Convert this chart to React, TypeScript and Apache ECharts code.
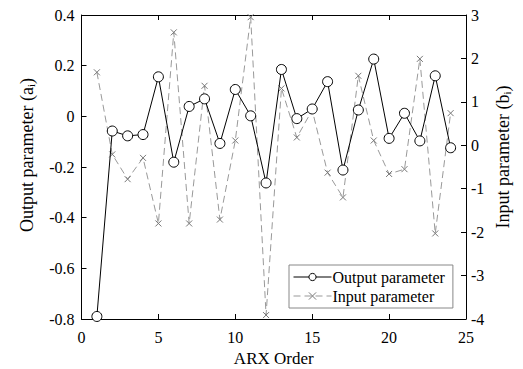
import React, { useEffect, useRef } from "react";
import * as echarts from "echarts";

const orders = [1,2,3,4,5,6,7,8,9,10,11,12,13,14,15,16,17,18,19,20,21,22,23,24];
const outputParam = [-0.79,-0.058,-0.077,-0.072,0.156,-0.181,0.039,0.069,-0.107,0.106,0.002,-0.263,0.185,-0.009,0.029,0.137,-0.212,0.025,0.226,-0.087,0.012,-0.097,0.16,-0.124];
const inputParam = [1.68,-0.21,-0.78,-0.29,-1.8,2.6,-1.8,1.37,-1.71,0.11,2.95,-3.91,1.31,0.18,0.81,-0.63,-1.2,1.6,0.11,-0.66,-0.55,1.99,-2.03,0.74];
const leftTicks = { min: -0.8, max: 0.4, interval: 0.2 };
const rightTicks = { min: -4, max: 3, interval: 1 };
const xTicks = { min: 0, max: 25, interval: 5 };

const FONT = "'Liberation Serif', 'Times New Roman', serif";

export default function App() {
  const ref = useRef<HTMLDivElement>(null);
  useEffect(() => {
    const chart = echarts.init(ref.current!, null, { renderer: "svg" });
    const axisLine = { show: true, onZero: false, lineStyle: { color: "#000", width: 1 } };
    const axisTick = { show: true, inside: true, length: 5, lineStyle: { color: "#000" } };
    const labelStyle = { color: "#000", fontFamily: FONT, fontSize: 16 };
    chart.setOption({
      animation: false,
      backgroundColor: "#fff",
      grid: { left: 81.5, right: 57, top: 15, bottom: 50, outerBoundsMode: "none", containLabel: false },
      xAxis: [
        {
          type: "value", ...xTicks, position: "bottom",
          axisLine, axisTick, splitLine: { show: false },
          axisLabel: { ...labelStyle, margin: 10 },
          name: "ARX Order", nameLocation: "middle", nameGap: 30,
          nameTextStyle: { color: "#000", fontFamily: FONT, fontSize: 17, lineHeight: 17 },
        },
        {
          type: "value", ...xTicks, position: "top",
          axisLine, axisTick, splitLine: { show: false },
          axisLabel: { show: false },
        },
      ],
      yAxis: [
        {
          type: "value", ...leftTicks, position: "left",
          axisLine, axisTick, splitLine: { show: false },
          axisLabel: { ...labelStyle, margin: 7, formatter: (v: number) => String(Math.round(v * 10) / 10) },
        },
        {
          type: "value", ...rightTicks, position: "right",
          axisLine, axisTick, splitLine: { show: false },
          axisLabel: { ...labelStyle, margin: 5 },
        },
      ],
      legend: {
        left: 289, top: 265, orient: "vertical",
        backgroundColor: "#fff", borderColor: "#888", borderWidth: 1,
        padding: [4, 8, 4, 4], itemGap: 3, itemWidth: 38, itemHeight: 9,
        lineStyle: { width: 1 },
        itemStyle: { borderWidth: 1 },
        textStyle: { color: "#000", fontFamily: FONT, fontSize: 16, padding: [0, 0, 0, -4] },
        data: ["Output parameter", "Input parameter"],
      },
      graphic: [
        {
          type: "text", x: 27, y: 155, rotation: Math.PI / 2,
          style: {
            text: "{n|Output parameter (a}{s|i}{n|)}",
            align: "center", verticalAlign: "middle",
            rich: {
              n: { fontFamily: FONT, fontSize: 18, fill: "#000" },
              s: { fontFamily: FONT, fontSize: 11, fill: "#000", padding: [8, 0, 0, 0] },
            },
          },
        },
        {
          type: "text", x: 503, y: 157, rotation: Math.PI / 2,
          style: {
            text: "{n|Input parameter (b}{s|i}{n|)}",
            align: "center", verticalAlign: "middle",
            rich: {
              n: { fontFamily: FONT, fontSize: 18, fill: "#000" },
              s: { fontFamily: FONT, fontSize: 11, fill: "#000", padding: [8, 0, 0, 0] },
            },
          },
        },
      ],
      series: [
        {
          name: "Input parameter", type: "line", xAxisIndex: 0, yAxisIndex: 1,
          data: orders.map((o, i) => [o, inputParam[i]]),
          symbol: "path://M0,0L10,10M10,0L0,10", symbolSize: 6,
          itemStyle: { color: "rgba(0,0,0,0)", borderColor: "#777", borderWidth: 1 },
          lineStyle: { color: "#999", width: 1, type: [7, 4] },
          z: 2,
        },
        {
          name: "Output parameter", type: "line", xAxisIndex: 0, yAxisIndex: 0,
          data: orders.map((o, i) => [o, outputParam[i]]),
          symbol: "circle", symbolSize: 10,
          itemStyle: { color: "#fff", borderColor: "#000", borderWidth: 1 },
          lineStyle: { color: "#000", width: 1 },
          z: 3,
        },
      ],
    });
    return () => chart.dispose();
  }, []);
  return <div ref={ref} style={{ width: 523, height: 369, position: "absolute", left: 0, top: 0 }} />;
}
